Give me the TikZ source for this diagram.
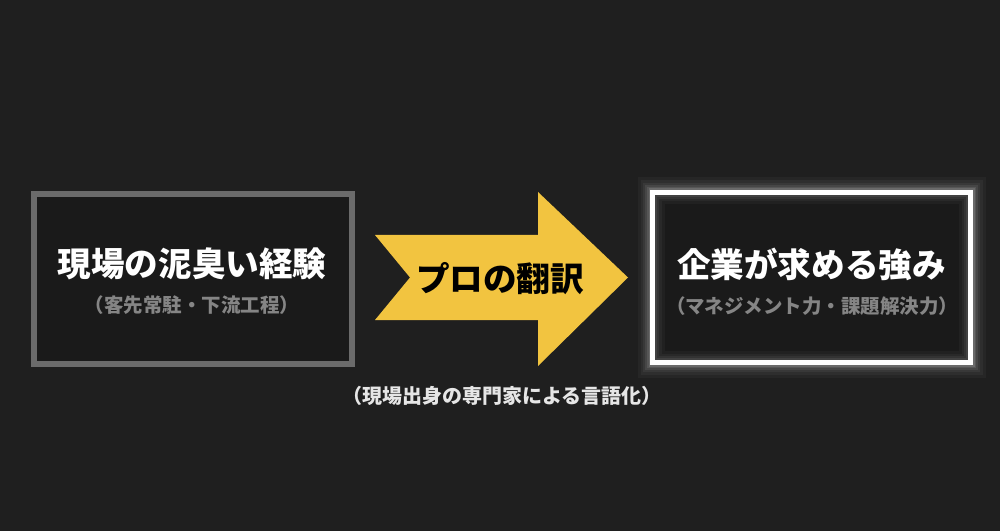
\documentclass[tikz,border=0pt]{standalone}
\usepackage{fontspec}
\newfontfamily\jp{Noto Sans CJK JP}
\definecolor{bg}{HTML}{1F1F1F}
\definecolor{boxfill}{HTML}{1A1A1A}
\definecolor{leftborder}{HTML}{6B6B6B}
\definecolor{subgray}{HTML}{858585}
\definecolor{arrowyellow}{HTML}{F2C440}
\definecolor{captiongray}{HTML}{E6E6E6}
\tikzset{
  title/.style={font=\jp\bfseries\fontsize{25.2pt}{29pt}\selectfont, text=white, inner sep=0pt},
  subtitle/.style={font=\jp\bfseries\fontsize{14.6pt}{17pt}\selectfont, text=subgray, inner sep=0pt},
  panel/.style={minimum width=318*0.75pt, minimum height=170*0.75pt, inner sep=0pt, fill=boxfill},
}
\begin{document}
\begin{tikzpicture}[x=0.75pt,y=-0.75pt]
\fill[bg] (0,0) rectangle (1000,531);
\useasboundingbox (0,0) rectangle (1000,531);
% left panel
\node[panel, draw=leftborder, line width=3.8pt] (left) at (193,279) {};
\node[title] (lefttitle) at (192,264) {現場の泥臭い経験};
\node[subtitle] (leftsub) at (192,305) {（客先常駐・下流工程）};
% right panel glow
\foreach \w/\o in {30/0.03,24/0.04,19/0.05,15/0.07,11/0.09,8/0.12}{
  \draw[white, opacity=\o, line width=\w*0.75pt] (652.5,192.5) rectangle (970.5,362.5);
}
\node[panel, draw=white, line width=4pt] (right) at (811.5,277.5) {};
\begin{scope}
\clip (655,195) rectangle (968,360);
\foreach \w/\o in {24/0.03,18/0.04,13/0.05,9/0.07}{
  \draw[white, opacity=\o, line width=\w*0.75pt] (652.5,192.5) rectangle (970.5,362.5);
}
\end{scope}
\node[title] (righttitle) at (811.5,264) {企業が求める強み};
\node[subtitle] (rightsub) at (812,306) {（マネジメント力・課題解決力）};
% arrow
\fill[arrowyellow] (375,235) -- (538,235) -- (538,192) -- (628,277.5) -- (538,366) -- (538,320) -- (375,320) -- (410,277.5) -- cycle;
\node[title, text=black] (arrowlabel) at (500,279) {プロの翻訳};
\node[font=\jp\bfseries\fontsize{15pt}{18pt}\selectfont, text=captiongray, inner sep=0pt] (caption) at (502,396) {（現場出身の専門家による言語化）};
\end{tikzpicture}
\end{document}
